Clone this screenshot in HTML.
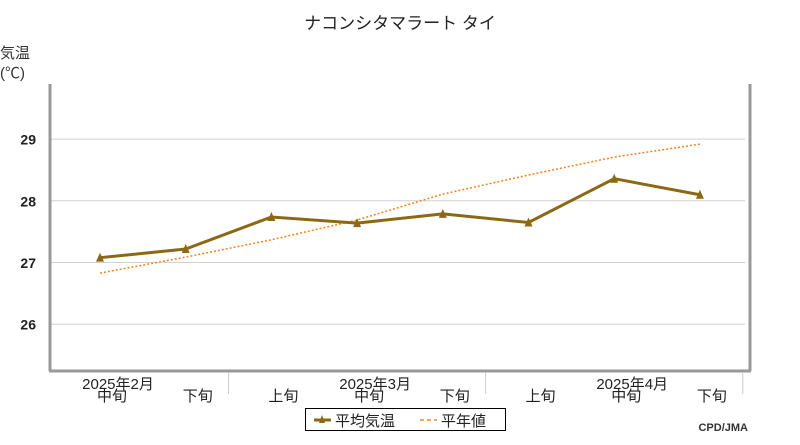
<!DOCTYPE html>
<html><head><meta charset="utf-8"><style>
body{margin:0;background:#fff;}
svg text{font-family:"Liberation Sans","Noto Sans CJK JP",sans-serif;}
</style></head><body>
<svg width="800" height="440" xmlns="http://www.w3.org/2000/svg">
<text x="400" y="29" font-size="17" text-anchor="middle" fill="#222">ナコンシタマラート タイ</text>
<text x="0" y="58" font-size="15" fill="#333">気温</text>
<text x="0" y="78" font-size="15" fill="#333">(℃)</text>
<g id="grid"></g>
<g id="yticks"></g>
<line x1="50" y1="84" x2="50" y2="371" stroke="#999" stroke-width="3"/>
<line x1="750" y1="84" x2="750" y2="371" stroke="#999" stroke-width="3"/>
<line x1="49" y1="371" x2="751" y2="371" stroke="#999" stroke-width="3"/>
<g id="xticks"></g>
<g id="series"></g>
<g>
<rect x="305.5" y="408.5" width="200" height="22" fill="#fff" stroke="#000"/>
<line x1="314" y1="420" x2="331" y2="420" stroke="#8B6914" stroke-width="3"/>
<path d="M319,423 L322,415 L325,423 Z" fill="#8B6914"/>
<text x="335" y="426" font-size="15" fill="#222">平均気温</text>
<line x1="420" y1="420" x2="437" y2="420" stroke="#f58220" stroke-width="1.5" stroke-dasharray="4,3"/>
<text x="441" y="426" font-size="15" fill="#222">平年値</text>
</g>
<text x="748" y="431" font-size="11" font-weight="bold" text-anchor="end" fill="#333" font-family="Liberation Mono">CPD/JMA</text>
</svg>
<script>
const categories=["中旬","下旬","上旬","中旬","下旬","上旬","中旬","下旬"];
const monthLabels=["2025年2月","2025年3月","2025年4月"];
const meanTemp=[27.07,27.21,27.73,27.63,27.78,27.64,28.35,28.09];
const normalTemp=[26.82,27.08,27.36,27.68,28.10,28.41,28.70,28.91];
const yTicks=[26,27,28,29];
const NS="http://www.w3.org/2000/svg";
const xS=i=>100+i*85.7;
const yS=v=>262-(v-27)*61.7;
function mk(t,a,p){const e=document.createElementNS(NS,t);for(const k in a)e.setAttribute(k,a[k]);p.appendChild(e);return e;}
const grid=document.getElementById('grid'),yt=document.getElementById('yticks'),xt=document.getElementById('xticks'),se=document.getElementById('series');
yTicks.forEach(v=>{
 const l=mk('line',{x1:51,x2:745,y1:yS(v)+0.5,y2:yS(v)+0.5,stroke:'#d0d0d0'},grid);
 
 
 const t=mk('text',{x:36,y:yS(v)+6,'font-size':14,'text-anchor':'end',fill:'#222','font-weight':'bold'},yt);
 t.textContent=v;
 
 
});
categories.forEach((c,i)=>{
 const t=mk('text',{x:xS(i)+12,y:401,'font-size':15,'text-anchor':'middle',fill:'#222'},xt);
 t.textContent=c;
 
 
});
monthLabels.forEach((m,j)=>{
 const t=mk('text',{x:xS(j*3)+18,y:389,'font-size':15,'text-anchor':'middle',fill:'#222'},xt);
 t.textContent=m;
 
 
 const sx=xS(j*3+1)+42.85;
 const l=mk('line',{x1:sx,x2:sx,y1:372,y2:394,stroke:'#ccc'},xt);
 
 
});
const np=mk('polyline',{points:normalTemp.map((v,i)=>xS(i)+','+yS(v)).join(' '),fill:'none',stroke:'#f58220','stroke-width':1.5,'stroke-dasharray':'2,2'},se);


const mp=mk('polyline',{points:meanTemp.map((v,i)=>xS(i)+','+yS(v)).join(' '),fill:'none',stroke:'#8B6914','stroke-width':3},se);


meanTemp.forEach((v,i)=>{
 const x=xS(i),y=yS(v);
 const p=mk('path',{d:`M${x-4},${y+4} L${x},${y-5} L${x+4},${y+4} Z`,fill:'#8B6914'},se);
 
 
});
</script>
</body></html>
